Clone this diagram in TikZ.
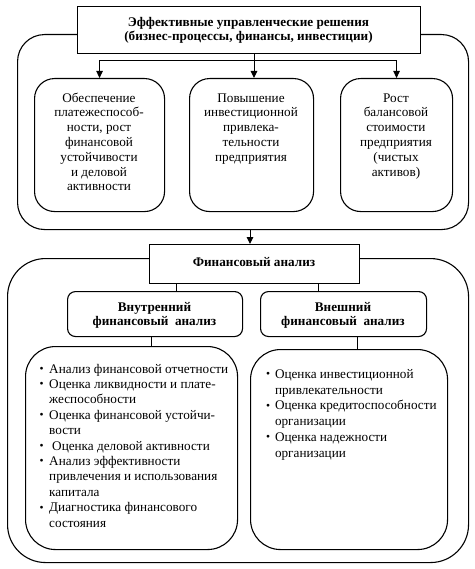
\documentclass[tikz,border=0pt]{standalone}
\usepackage{fontspec}
\setmainfont{Liberation Serif}
\usetikzlibrary{arrows.meta}
\newcommand{\ctab}[1]{\begin{tabular}{@{}c@{}}#1\end{tabular}}
\newcommand{\bul}{\raisebox{0.6pt}{\fontsize{11.5}{11.5}\selectfont\textbullet}}
\begin{document}
\begin{tikzpicture}[x=1pt,y=-1pt,
  ln/.style={line width=1pt},
  arr/.style={line width=1pt,-{Triangle[length=7pt,width=6.5pt]}},
  hbox/.style={draw,line width=1.3pt,fill=white,inner sep=0pt,anchor=north west},
  rbox/.style={draw,line width=1.1pt,fill=white,inner sep=0pt,anchor=north west},
  btxt/.style={inner sep=0pt,anchor=north,font=\fontsize{13.2}{14.8}\selectfont},
  htxt/.style={inner sep=0pt,anchor=north,font=\fontsize{13.2}{14}\selectfont\bfseries},
  ltxt/.style={inner sep=0pt,anchor=north west,font=\fontsize{13.2}{15.4}\selectfont}]
\useasboundingbox (0,0) rectangle (474,569);
\fill[white] (0,0) rectangle (474,569);
% outer frames
\node[rbox,rounded corners=27pt,minimum width=451pt,minimum height=195pt] (outer1) at (17,34) {};
\node[rbox,rounded corners=38pt,minimum width=461pt,minimum height=304pt] (outer2) at (7,258) {};
% top box
\node[hbox,minimum width=343pt,minimum height=47pt] (top) at (77,6) {};
\node[htxt] (ttop) at (248.5,16.2) {\ctab{Эффективные управленческие решения\\(бизнес-процессы, финансы, инвестиции)}};
% three boxes
\node[rbox,rounded corners=20pt,minimum width=130pt,minimum height=133pt] (b1) at (34,78) {};
\node[rbox,rounded corners=20pt,minimum width=124pt,minimum height=133pt] (b2) at (189,78) {};
\node[rbox,rounded corners=20pt,minimum width=112pt,minimum height=133pt] (b3) at (340,78) {};
\node[btxt] (t1) at (99,91.6) {\ctab{Обеспечение\\платежеспособ-\\ности, рост\\финансовой\\устойчивости\\и деловой\\активности}};
\node[btxt] (t2) at (251,91.6) {\ctab{Повышение\\инвестиционной\\привлека-\\тельности\\предприятия}};
\node[btxt] (t3) at (396,91.6) {\ctab{Рост\\балансовой\\стоимости\\предприятия\\(чистых\\активов)}};
\coordinate (bar) at (254,61);
\draw[ln] (top.south -| bar) -- (bar);
\draw[arr] (bar) -- (bar |- b2.north);
\draw[arr] (bar) -| (b1.north);
\draw[arr] (bar) -| (b3.north);
% financial analysis
\node[hbox,minimum width=210pt,minimum height=39pt] (fa) at (149,244) {};
\node[inner sep=0pt,anchor=base,font=\fontsize{13.2}{14}\selectfont\bfseries] (tfa) at (254,266) {Финансовый анализ};
\coordinate (c2) at (250,0);
\draw[arr] (outer1.south -| c2) -- (fa.north -| c2);
% inner headers
\node[rbox,rounded corners=8pt,minimum width=175pt,minimum height=45pt] (in1) at (67,291) {};
\node[rbox,rounded corners=8pt,minimum width=166pt,minimum height=45pt] (in2) at (260,291) {};
\node[htxt] (tin1) at (154.5,301.2) {\ctab{Внутренний\\финансовый\ \ анализ}};
\node[htxt] (tin2) at (343,301.2) {\ctab{Внешний\\финансовый\ \ анализ}};
\coordinate (c3) at (176,0);
\coordinate (c4) at (318,0);
\draw[ln] (fa.south -| c3) -- (in1.north -| c3);
\draw[ln] (fa.south -| c4) -- (in2.north -| c4);
% lists
\node[rbox,rounded corners=30pt,minimum width=212pt,minimum height=203pt] (l1) at (25,346) {};
\node[rbox,rounded corners=30pt,minimum width=197pt,minimum height=200pt] (l2) at (250,349) {};
\coordinate (c5) at (151,0);
\coordinate (c6) at (357,0);
\draw[ln] (in1.south -| c5) -- (l1.north -| c5);
\draw[ln] (in2.south -| c6) -- (l2.north -| c6);
\node[ltxt] (tl1) at (39.5,362.2) {\begin{tabular}{@{}l@{\hspace{5.5pt}}l@{}}
\bul & Анализ финансовой отчетности\\
\bul & Оценка ликвидности и плате-\\
 & жеспособности\\
\bul & Оценка финансовой устойчи-\\
 & вости\\
\bul & \hspace{3pt}Оценка деловой активности\\
\bul & Анализ эффективности\\
 & привлечения и использования\\
 & капитала\\
\bul & Диагностика финансового\\
 & состояния
\end{tabular}};
\node[ltxt,font=\fontsize{13.2}{15.8}\selectfont] (tl2) at (266,367) {\begin{tabular}{@{}l@{\hspace{4.8pt}}l@{}}
\bul & Оценка инвестиционной\\
 & привлекательности\\
\bul & Оценка кредитоспособности\\
 & организации\\
\bul & Оценка надежности\\
 & организации
\end{tabular}};
\end{tikzpicture}
\end{document}
